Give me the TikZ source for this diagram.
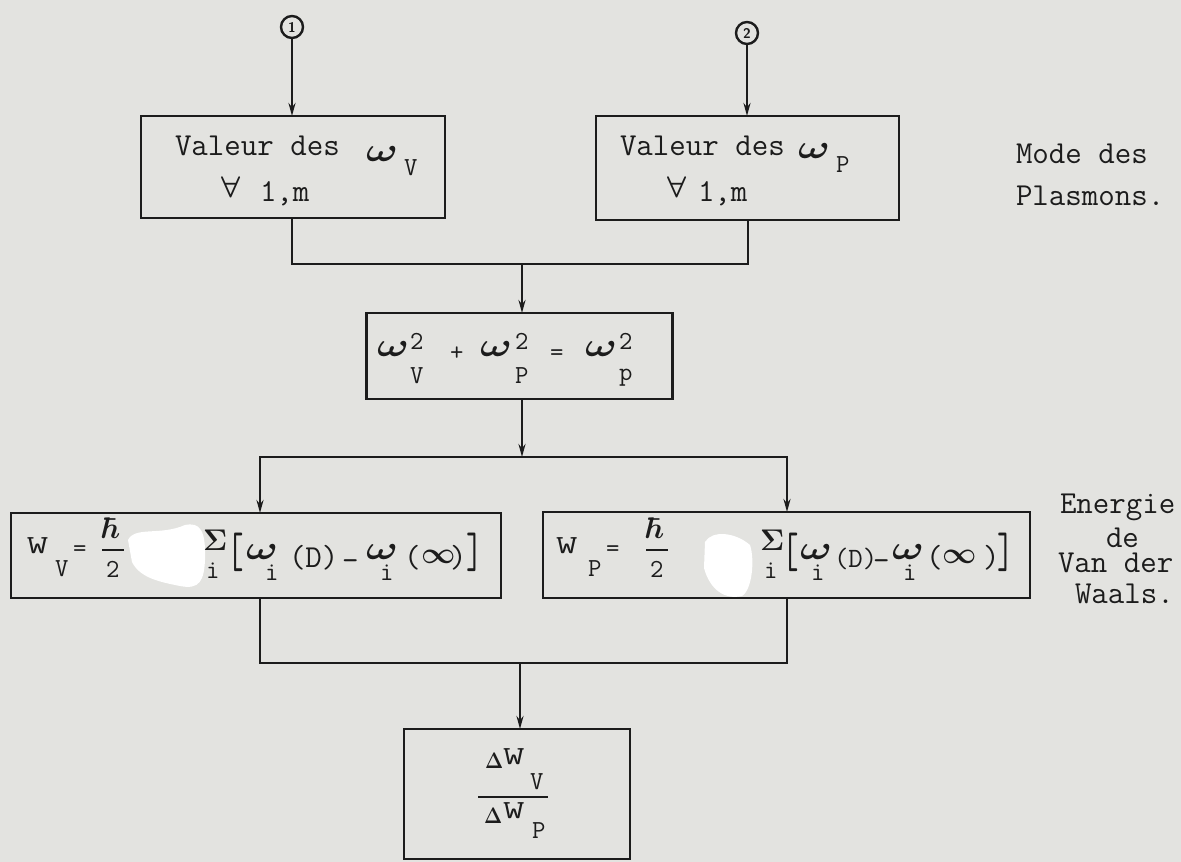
\documentclass[tikz,border=0pt]{standalone}
\usepackage{fontspec}
\usepackage{amsmath}
\usepackage{graphicx}
\usetikzlibrary{arrows.meta}
\definecolor{paper}{RGB}{227,227,224}
\definecolor{ink}{RGB}{28,28,28}
\newcommand\om{\scalebox{1.7}[1.35]{\boldmath$\omega$}}
\newcommand\wideW{\scalebox{1.6}[1.0]{W}}
\newcommand\tallL{\scalebox{1}[1.55]{[}}
\newcommand\tallR{\scalebox{1}[1.55]{]}}
\newcommand\mth[1]{\scalebox{1.2}{\boldmath$#1$}}
\newcommand\smallDelta{\scalebox{0.78}[0.9]{\boldmath$\Delta$}}
\tikzset{
  box/.style={draw=ink, line width=2.4pt, rectangle, inner sep=0pt, outer sep=0pt},
  conn/.style={draw=ink, line width=2.4pt},
  arr/.style={conn, -{Stealth[length=13pt,width=7pt]}},
  txt/.style={inner sep=0pt, outer sep=0pt, anchor=base west, text=ink, font=\ttfamily\fontsize{32}{38}\selectfont},
  sml/.style={txt, font=\ttfamily\fontsize{26}{30}\selectfont},
  mid/.style={txt, font=\ttfamily\fontsize{28}{32}\selectfont},
  num/.style={circle, draw=ink, line width=2.4pt, minimum size=22pt, inner sep=0pt, text=ink, font=\sffamily\bfseries\fontsize{14}{14}\selectfont},
  blob/.style={fill=white, draw=none},
}
\begin{document}
\begin{tikzpicture}[x=1pt,y=-1pt]
\fill[paper] (0,0) rectangle (1181,862);
\useasboundingbox (0,0) rectangle (1181,862);

% input markers
\node[num] (c1) at (292,27) {1};
\node[num] (c2) at (747,33) {2};

% boxes
\node[box, minimum width=304pt, minimum height=102pt] (bv) at (293,167) {};
\node[box, minimum width=303pt, minimum height=104pt] (bp) at (747.5,168) {};
\node[box, minimum width=306pt, minimum height=86pt] (bc) at (519.5,356) {};
\node[box, minimum width=490pt, minimum height=85pt] (bl) at (256,555.5) {};
\node[box, minimum width=487pt, minimum height=86pt] (br) at (786.5,555) {};
\node[box, minimum width=226pt, minimum height=130pt] (bb) at (517,794) {};

% correction-fluid patches
\fill[blob] (128,540) .. controls (135,526) and (160,536) .. (185,525) .. controls (200,522) and (206,530) .. (205,560) .. controls (204,580) and (200,590) .. (180,586) .. controls (160,582) and (140,578) .. (132,562) -- cycle;
\fill[blob] (705,542) .. controls (712,530) and (735,532) .. (750,545) .. controls (755,560) and (752,590) .. (742,596) .. controls (725,600) and (710,590) .. (704,568) -- cycle;

% box V text
\node[txt] (v1) at (175,155) {Valeur des};
\node[txt] (v2) at (366,161) {\om};
\node[sml] (v3) at (404,175) {V};
\node[sml] (v4) at (221,197) {\mth{\forall}};
\node[txt] (v5) at (260,201) {1,m};

% box P text
\node[txt] (p1) at (620,155) {Valeur des};
\node[txt] (p2) at (798,158) {\om};
\node[sml] (p3) at (836,172) {P};
\node[sml] (p4) at (667,197) {\mth{\forall}};
\node[txt] (p5) at (698,201) {1,m};

% side labels
\node[txt] (m1) at (1016,163) {Mode des};
\node[txt] (m2) at (1016,205) {Plasmons.};
\node[txt] (g1) at (1060,513) {Energie};
\node[txt] (g2) at (1106,547) {de};
\node[txt] (g3) at (1058,572) {Van der};
\node[txt] (g4) at (1075,603) {Waals.};

% centre formula
\node[txt] (e1) at (377,356) {\om};
\node[sml] (e2) at (410,349) {2};
\node[sml] (e3) at (410,383) {V};
\node[sml] (e4) at (450,360) {+};
\node[txt] (e5) at (480,356) {\om};
\node[sml] (e6) at (515,349) {2};
\node[sml] (e7) at (515,383) {P};
\node[sml] (e8) at (550,360) {=};
\node[txt] (e9) at (585,356) {\om};
\node[sml] (e10) at (619,349) {2};
\node[sml] (e11) at (619,380) {p};

% left energy formula
\node[sml] (l1) at (27,553) {\wideW};
\node[sml] (l2) at (55,576) {V};
\node[sml] (l3) at (73,556) {=};
\node[sml] (l4) at (102,538) {\mth{\hbar}};
\draw[conn, line width=2pt] (102,550) -- (124,550);
\node[sml] (l4b) at (106,577) {2};
\node[sml] (l5) at (203,550) {\mth{\Sigma}};
\node[sml] (l6) at (206,578) {i};
\node[txt] (l7) at (227,567) {\tallL};
\node[txt] (l8) at (246,559) {\om};
\node[sml] (l9) at (265,580) {i};
\node[txt] (l10) at (289,567) {(D)};
\node[txt] (l11) at (342,570) {-};
\node[txt] (l12) at (366,559) {\om};
\node[sml] (l13) at (380,580) {i};
\node[txt] (l14) at (404,567) {(};
\node[sml] (l15) at (421,563) {\mth{\infty}};
\node[txt] (l16) at (450,567) {)};
\node[txt] (l17) at (466,567) {\tallR};

% right energy formula
\node[sml] (r1) at (556,553) {\wideW};
\node[sml] (r2) at (588,576) {P};
\node[sml] (r3) at (606,556) {=};
\node[sml] (r4) at (646,538) {\mth{\hbar}};
\draw[conn, line width=2pt] (646,550) -- (668,550);
\node[sml] (r4b) at (650,577) {2};
\node[sml] (r5) at (760,550) {\mth{\Sigma}};
\node[sml] (r6) at (764,578) {i};
\node[txt] (r7) at (782,567) {\tallL};
\node[txt] (r8) at (800,559) {\om};
\node[sml] (r9) at (811,580) {i};
\node[mid] (r10) at (834,567) {(D)};
\node[txt] (r11) at (873,570) {-};
\node[txt] (r12) at (892,559) {\om};
\node[sml] (r13) at (903,580) {i};
\node[txt] (r14) at (926,567) {(};
\node[sml] (r15) at (942,563) {\mth{\infty}};
\node[txt] (r16) at (983,567) {)};
\node[txt] (r17) at (997,567) {\tallR};

% ratio
\node[sml] (b1) at (485,768) {\smallDelta};
\node[sml] (b2) at (503,764) {\wideW};
\node[sml] (b3) at (530,789) {V};
\draw[conn, line width=2pt] (478,797) -- (548,797);
\node[sml] (b4) at (484,823) {\smallDelta};
\node[sml] (b5) at (503,818) {\wideW};
\node[sml] (b6) at (532,838) {P};

% connectors
\draw[arr] (c1) -- (c1 |- bv.north);
\draw[arr] (c2) -- (c2 |- bp.north);
\coordinate (a1) at (292,264);
\coordinate (a2) at (748,264);
\coordinate (j1) at (522,264);
\draw[conn] (a1 |- bv.south) -- (a1) -- (a2) -- (a2 |- bp.south);
\draw[arr] (j1) -- (j1 |- bc.north);
\coordinate (j2) at (522,457);
\coordinate (d1) at (260,457);
\coordinate (d2) at (787,457);
\draw[arr] (j2 |- bc.south) -- (j2);
\draw[arr] (j2) -- (d1) -- (d1 |- bl.north);
\draw[arr] (j2) -- (d2) -- (d2 |- br.north);
\coordinate (k1) at (260,663);
\coordinate (k2) at (787,663);
\coordinate (j3) at (520,663);
\draw[conn] (k1 |- bl.south) -- (k1) -- (k2) -- (k2 |- br.south);
\draw[arr] (j3) -- (j3 |- bb.north);
\end{tikzpicture}
\end{document}
